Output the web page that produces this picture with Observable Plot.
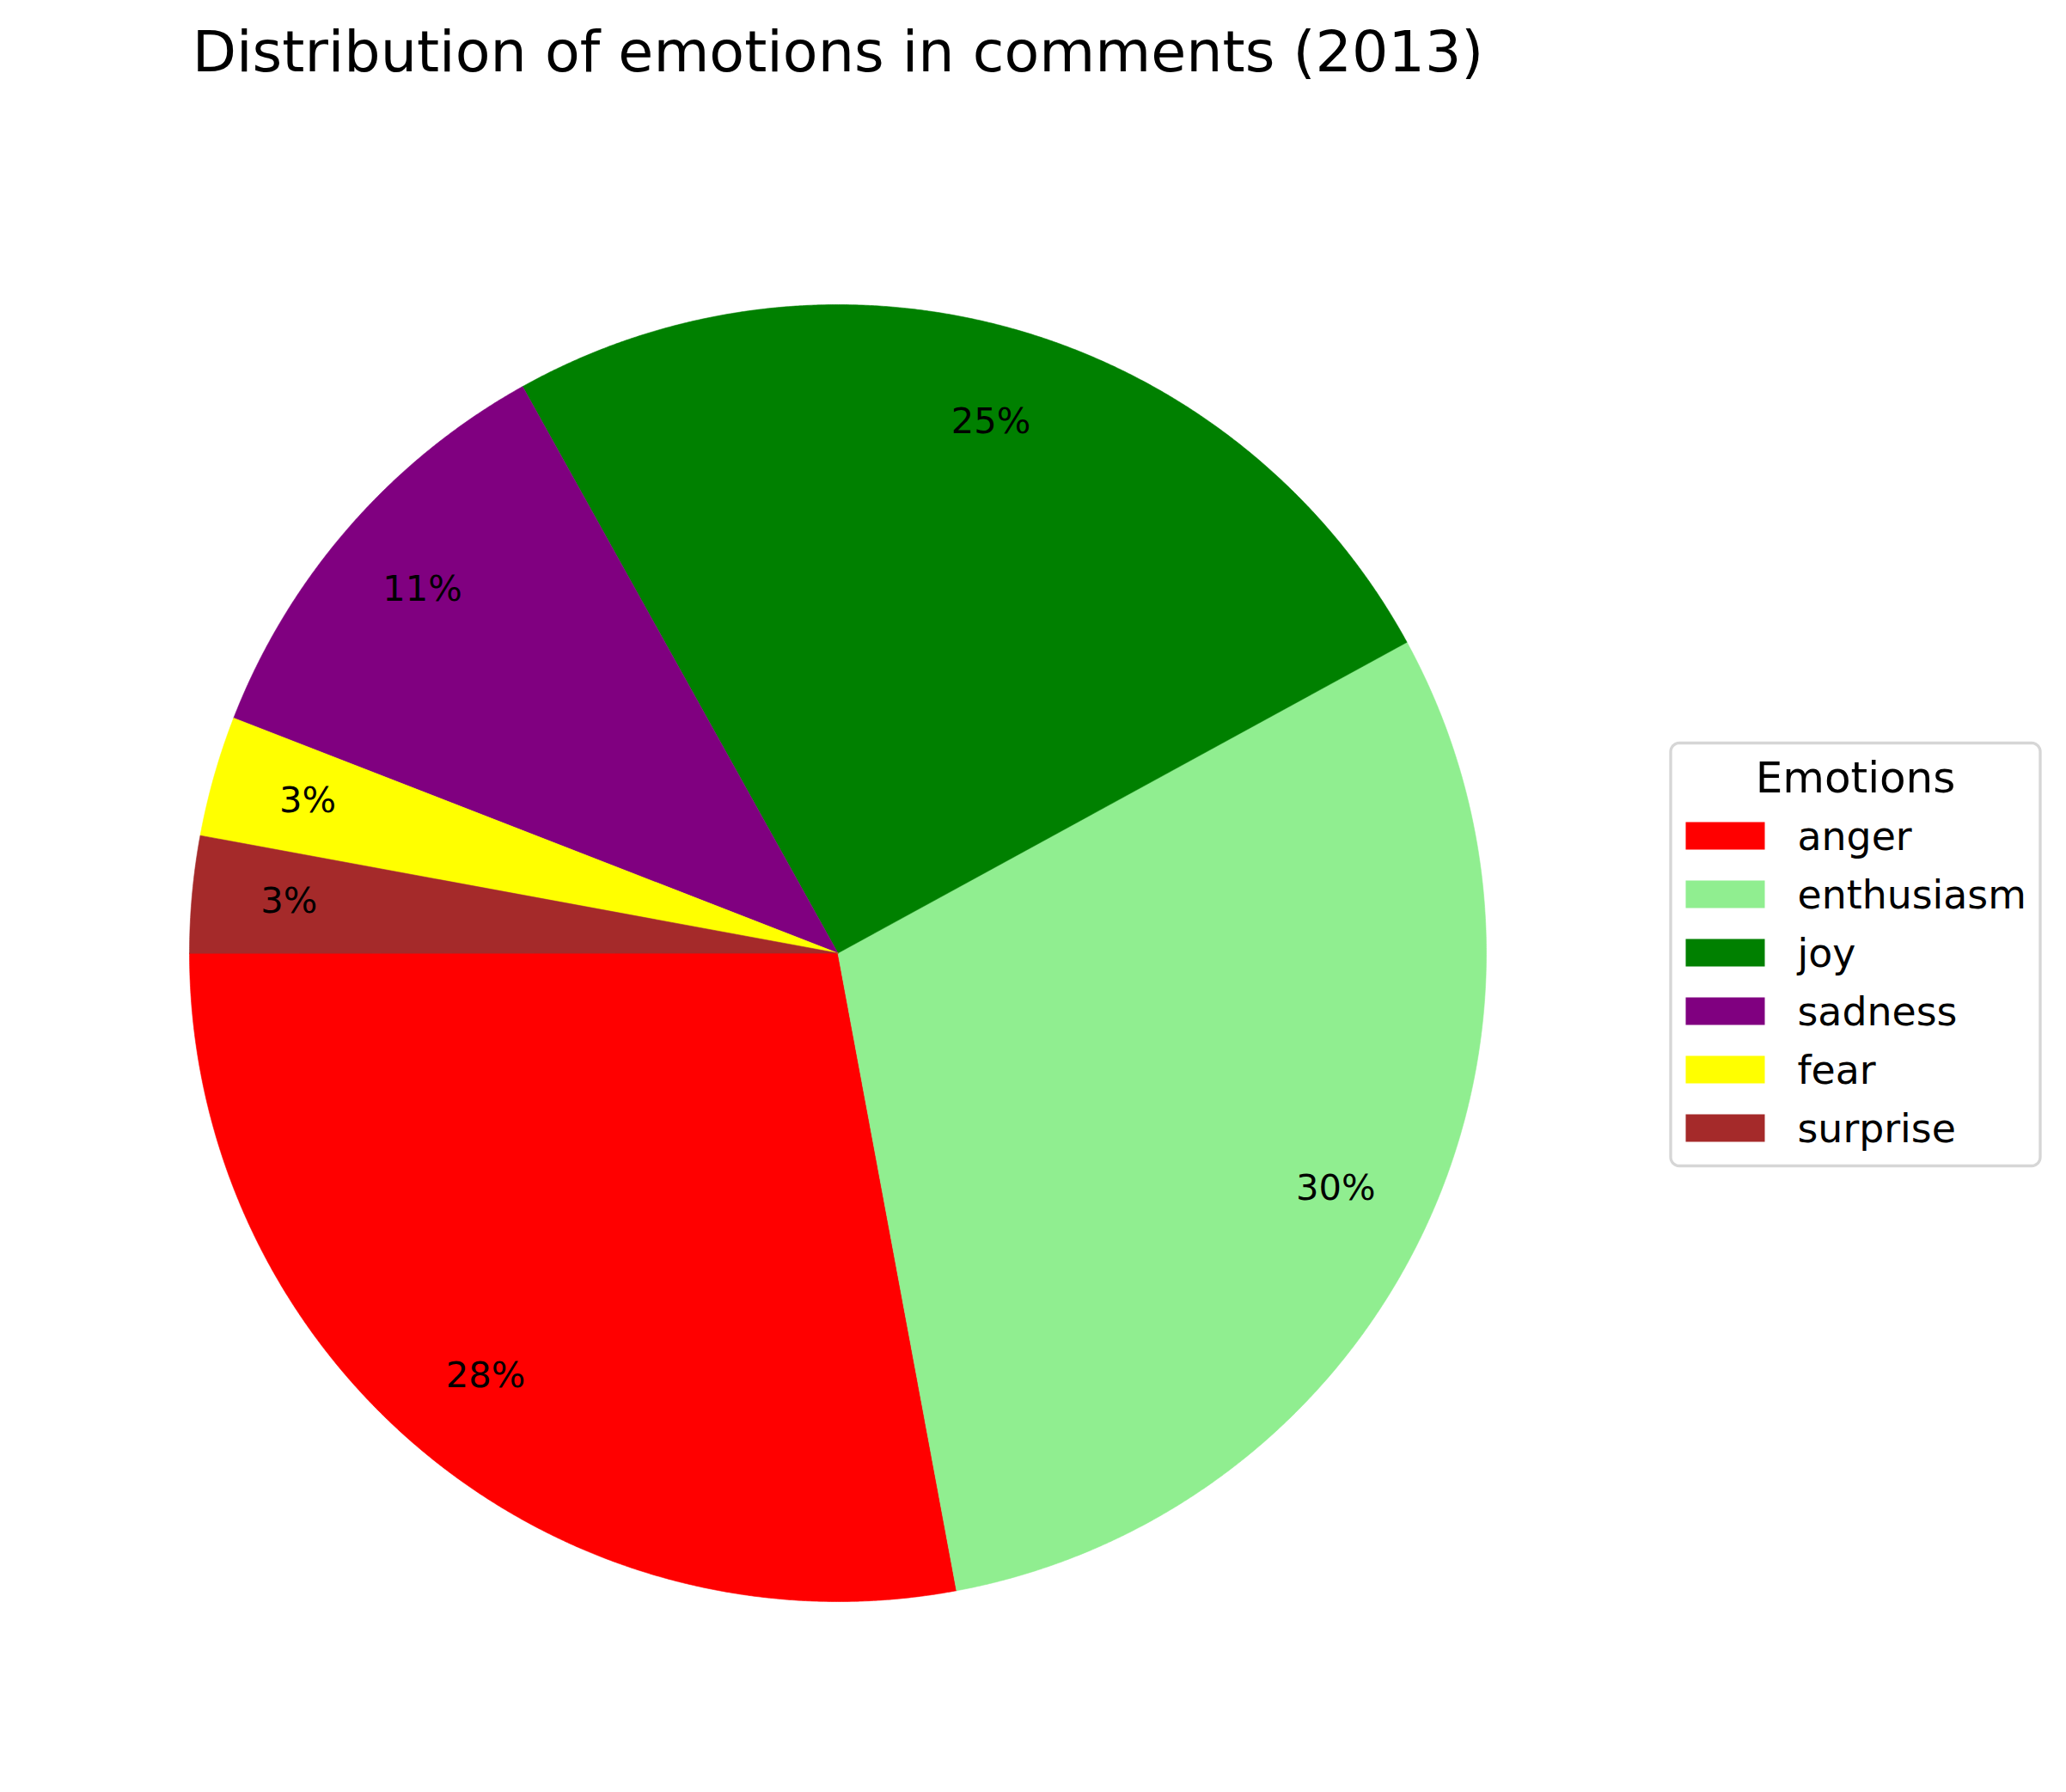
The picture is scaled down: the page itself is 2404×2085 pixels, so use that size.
<!DOCTYPE html>
<html><head><meta charset="utf-8">
<script src="https://cdn.jsdelivr.net/npm/d3@7"></script>
<script src="https://cdn.jsdelivr.net/npm/@observablehq/plot@0.6"></script>
<style>
html,body{margin:0;padding:0;background:#fff;}
#wrap{position:relative;width:2404px;height:2085px;overflow:hidden;font-family:"DejaVu Sans",sans-serif;}
#title{position:absolute;left:0;top:26.5px;width:1950px;text-align:center;font-size:66.7px;line-height:66.7px;white-space:nowrap;color:#000;}
#chart{position:absolute;left:0;top:120px;}
</style></head><body>
<div id="wrap"><div id="title">Distribution of emotions in comments (2013)</div><div id="chart"></div></div>
<script>
// ---- data ----
const emotions = ["anger", "enthusiasm", "joy", "sadness", "fear", "surprise"];
const shares = [27.9, 30.0, 25.1, 11.0, 3.0, 2.9];
const colors = ["#ff0000", "#90ee90", "#008000", "#800080", "#ffff00", "#a52a2a"];
const legendTitle = "Emotions";

// ---- layout ----
const W = 2404, H = 1965;
const cx = 974.5, cy = 988.5, R = 754.5, pctDist = 0.85, startDeg = 180;
const leg = {x0: 1943.5, x1: 2373.5, y0: 744, y1: 1236, r: 10,
  patchX0: 1961, patchX1: 2053, rowTop: 836, rowStep: 68, patchH: 32, textX: 2091, titleX: 2158.5, titleY: 801};

const total = d3.sum(shares);
let acc = startDeg;
const slices = emotions.map((e, i) => {
  const a0 = acc, a1 = acc + shares[i] / total * 360; acc = a1;
  return {emotion: e, share: shares[i], a0, a1};
});
const pt = (deg, r) => { const t = deg * Math.PI / 180; return [cx + r * Math.cos(t), cy - r * Math.sin(t)]; };
const wedges = slices.map(s => {
  const n = Math.max(2, Math.ceil((s.a1 - s.a0) / 0.2));
  const ring = [[cx, cy]];
  for (let k = 0; k <= n; k++) ring.push(pt(s.a0 + (s.a1 - s.a0) * k / n, R));
  ring.push([cx, cy]);
  return {type: "Feature", properties: s, geometry: {type: "Polygon", coordinates: [ring]}};
});
const labels = slices.map(s => {
  const [x, y] = pt((s.a0 + s.a1) / 2, R * pctDist);
  return {x, y, label: Math.round(s.share / total * 100) + "%"};
});

// legend geometry
const rect = (x0, y0, x1, y1) => ({type: "Polygon", coordinates: [[[x0, y0], [x1, y0], [x1, y1], [x0, y1], [x0, y0]]]});
function roundRect(x0, y0, x1, y1, r) {
  const ring = [];
  const corners = [[x1 - r, y0 + r, -90], [x1 - r, y1 - r, 0], [x0 + r, y1 - r, 90], [x0 + r, y0 + r, 180]];
  for (const [ccx, ccy, s] of corners) {
    for (let k = 0; k <= 8; k++) {
      const t = (s + 90 * k / 8) * Math.PI / 180;
      ring.push([ccx + r * Math.cos(t), ccy + r * Math.sin(t)]);
    }
  }
  ring.push(ring[0]);
  return {type: "Polygon", coordinates: [ring]};
}
const legendRows = emotions.map((e, i) => ({
  emotion: e,
  geometry: rect(leg.patchX0, leg.rowTop + leg.rowStep * i, leg.patchX1, leg.rowTop + leg.rowStep * i + leg.patchH),
  tx: leg.textX, ty: leg.rowTop + leg.rowStep * i + leg.patchH
}));

const chart = Plot.plot({
  width: W, height: H, margin: 0,
  projection: {type: "identity"},
  color: {domain: emotions, range: colors},
  style: {fontFamily: "DejaVu Sans", background: "white", color: "black"},
  marks: [
    Plot.geo(wedges, {fill: d => d.properties.emotion, stroke: d => d.properties.emotion, strokeWidth: 0.6}),
    Plot.text(labels, {x: "x", y: "y", text: "label", fontSize: 41.7, fill: "black", textAnchor: "middle", lineAnchor: "bottom", dy: 11.5}),
    Plot.geo([roundRect(leg.x0, leg.y0, leg.x1, leg.y1, leg.r)], {fill: "white", stroke: "#d6d6d6", strokeWidth: 3.33}),
    Plot.geo(legendRows, {geometry: "geometry", fill: "emotion"}),
    Plot.text(legendRows, {x: "tx", y: "ty", text: "emotion", fontSize: 45.8, fill: "black", textAnchor: "start", lineAnchor: "bottom"}),
    Plot.text([legendTitle], {x: () => leg.titleX, y: () => leg.titleY, text: d => d, fontSize: 50, fill: "black", textAnchor: "middle", lineAnchor: "bottom"})
  ]
});
document.getElementById("chart").appendChild(chart);
</script>
</body></html>
